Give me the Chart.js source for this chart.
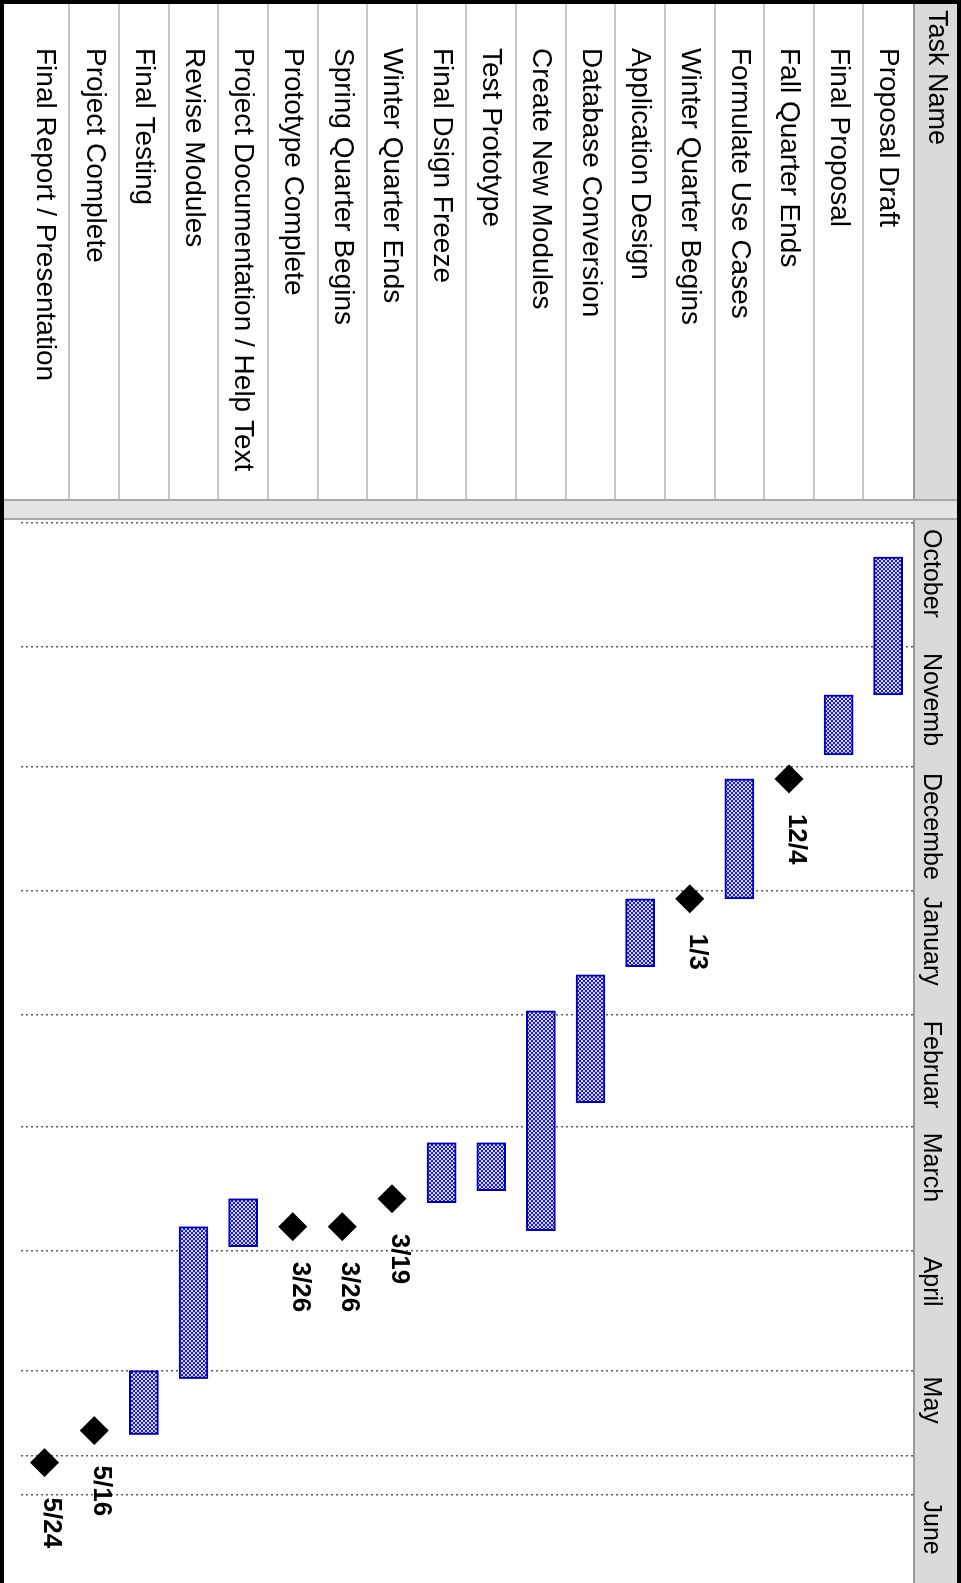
<!DOCTYPE html>
<html>
<head>
<meta charset="utf-8">
<title>Project Gantt</title>
<script src="https://cdn.jsdelivr.net/npm/chart.js@4.4.1/dist/chart.umd.min.js"></script>
<style>
  html, body { margin: 0; padding: 0; background: #fff; overflow: hidden; }
  #wrap {
    position: absolute; left: 0; top: 0;
    width: 1583px; height: 961px;
    transform-origin: 0 0;
    transform: translateX(961px) rotate(90deg);
  }
  #gantt { display: block; }
</style>
</head>
<body>
<div id="wrap"><canvas id="gantt" width="1583" height="961"></canvas></div>
<script>
// day numbers are counted from October 1
const taskNames = [
  'Proposal Draft', 'Final Proposal', 'Fall Quarter Ends', 'Formulate Use Cases',
  'Winter Quarter Begins', 'Application Design', 'Database Conversion', 'Create New Modules',
  'Test Prototype', 'Final Dsign Freeze', 'Winter Quarter Ends', 'Spring Quarter Begins',
  'Prototype Complete', 'Project Documentation / Help Text', 'Revise Modules', 'Final Testing',
  'Project Complete', 'Final Report / Presentation'
];
const taskStart = [8.5, 43, null, 64, null, 94, 113, 122, 155, 155, null, null, null, 169, 176, 212, null, null];
const taskEnd   = [43, 58, null, 94, null, 111, 145, 177, 167, 170, null, null, null, 181, 214, 228, null, null];

const milestoneTasks = ['Fall Quarter Ends', 'Winter Quarter Begins', 'Winter Quarter Ends',
  'Spring Quarter Begins', 'Prototype Complete', 'Project Complete', 'Final Report / Presentation'];
const milestoneDays = [64, 94, 169, 176, 176, 227, 235];
const milestoneLabels = ['12/4', '1/3', '3/19', '3/26', '3/26', '5/16', '5/24'];

const monthNames = ['October', 'Novemb', 'Decembe', 'January', 'Februar', 'March', 'April', 'May', 'June'];
const monthStartDays = [0, 31, 61, 92, 123, 151, 182, 212, 243];
const finishLineDay = 233.3;

const FONT = "'Liberation Sans', Arial, sans-serif";

function dotPattern() {
  const c = document.createElement('canvas');
  c.width = 4; c.height = 4;
  const g = c.getContext('2d');
  g.fillStyle = '#d2d2fa';
  g.fillRect(0, 0, 4, 4);
  g.fillStyle = '#1c1cd0';
  g.fillRect(0, 0, 2, 2);
  g.fillRect(2, 2, 2, 2);
  return g.createPattern(c, 'repeat');
}

// table, header band and frame of the project sheet
const sheetPlugin = {
  id: 'sheet',
  beforeDraw(chart) {
    const ctx = chart.ctx;
    const area = chart.chartArea;
    const y = chart.scales.y;
    const W = chart.width, H = chart.height;
    ctx.save();
    ctx.fillStyle = '#fff';
    ctx.fillRect(0, 0, W, H);

    // header band
    ctx.fillStyle = '#dadada';
    ctx.fillRect(0, 0, W, area.top);
    ctx.strokeStyle = '#999';
    ctx.lineWidth = 2;
    ctx.beginPath();
    ctx.moveTo(0, area.top - 1); ctx.lineTo(W, area.top - 1);
    ctx.stroke();

    ctx.fillStyle = '#000';
    ctx.font = '27px ' + FONT;
    ctx.textBaseline = 'middle';
    ctx.textAlign = 'left';
    ctx.fillText('Task Name', 10, 25);

    // row separators in the task table
    ctx.strokeStyle = '#c6c6c6';
    ctx.lineWidth = 2;
    const half = (y.getPixelForValue(1) - y.getPixelForValue(0)) / 2;
    ctx.beginPath();
    for (let i = 0; i < taskNames.length - 1; i++) {
      const p = Math.round(y.getPixelForValue(i) + half);
      ctx.moveTo(0, p); ctx.lineTo(area.left - 20, p);
    }
    ctx.stroke();

    // splitter between table and chart
    ctx.fillStyle = '#e4e4e4';
    ctx.fillRect(area.left - 20, 0, 20, H);
    ctx.strokeStyle = '#a8a8a8';
    ctx.lineWidth = 2;
    ctx.beginPath();
    ctx.moveTo(area.left - 20, 0); ctx.lineTo(area.left - 20, H);
    ctx.moveTo(area.left - 1, 0); ctx.lineTo(area.left - 1, H);
    ctx.stroke();
    ctx.restore();
  },
  afterDatasetsDraw(chart) {
    const ctx = chart.ctx;
    const meta = chart.getDatasetMeta(1);
    ctx.save();
    ctx.fillStyle = '#000';
    ctx.font = 'bold 26px ' + FONT;
    ctx.textBaseline = 'middle';
    ctx.textAlign = 'left';
    meta.data.forEach((pt, i) => {
      ctx.fillText(milestoneLabels[i], pt.x + 35, pt.y - 7);
    });
    ctx.restore();
  },
  afterDraw(chart) {
    const ctx = chart.ctx;
    ctx.save();
    ctx.fillStyle = '#000';
    ctx.fillRect(0, 0, chart.width, 4);
    ctx.fillRect(0, 0, 4, chart.height);
    ctx.fillRect(0, chart.height - 4, chart.width, 4);
    ctx.restore();
  }
};

const ctx = document.getElementById('gantt').getContext('2d');
new Chart(ctx, {
  type: 'bar',
  data: {
    labels: taskNames,
    datasets: [{
      label: 'Tasks',
      data: taskStart.map((s, i) => s === null ? null : [s, taskEnd[i]]),
      backgroundColor: dotPattern(),
      borderColor: '#0000c0',
      borderWidth: 2,
      borderSkipped: false,
      barThickness: 29
    }, {
      type: 'scatter',
      label: 'Milestones',
      data: milestoneDays.map((d, i) => ({ x: d, y: milestoneTasks[i] })),
      pointStyle: 'rectRot',
      pointRadius: 14.5,
      pointHoverRadius: 14.5,
      backgroundColor: '#000',
      borderWidth: 0,
      clip: false
    }]
  },
  options: {
    indexAxis: 'y',
    responsive: false,
    maintainAspectRatio: false,
    devicePixelRatio: 1,
    animation: false,
    layout: { padding: { top: 4, left: 48, bottom: 4, right: 0 } },
    plugins: {
      legend: { display: false },
      tooltip: { enabled: false }
    },
    scales: {
      x: {
        type: 'linear',
        position: 'top',
        min: -0.75,
        max: 261.5,
        afterBuildTicks: scale => {
          scale.ticks = monthStartDays.map(v => ({ value: v })).concat([{ value: finishLineDay }]);
        },
        afterFit: scale => { scale.height = 44; },
        ticks: {
          autoSkip: false,
          maxRotation: 0,
          align: 'start',
          labelOffset: 6,
          padding: 3,
          color: '#000',
          font: { family: FONT, size: 25 },
          callback: value => {
            const i = monthStartDays.indexOf(value);
            return i >= 0 ? monthNames[i] : '';
          }
        },
        grid: { color: '#5a5a5a', lineWidth: 1.5, drawTicks: false },
        border: { display: false, dash: [2, 3] }
      },
      y: {
        type: 'category',
        position: 'left',
        offset: true,
        afterFit: scale => { scale.width = 472; },
        ticks: {
          autoSkip: false,
          crossAlign: 'far',
          color: '#000',
          font: { family: FONT, size: 28 }
        },
        grid: { display: false },
        border: { display: false }
      }
    }
  },
  plugins: [sheetPlugin]
});
</script>
</body>
</html>
